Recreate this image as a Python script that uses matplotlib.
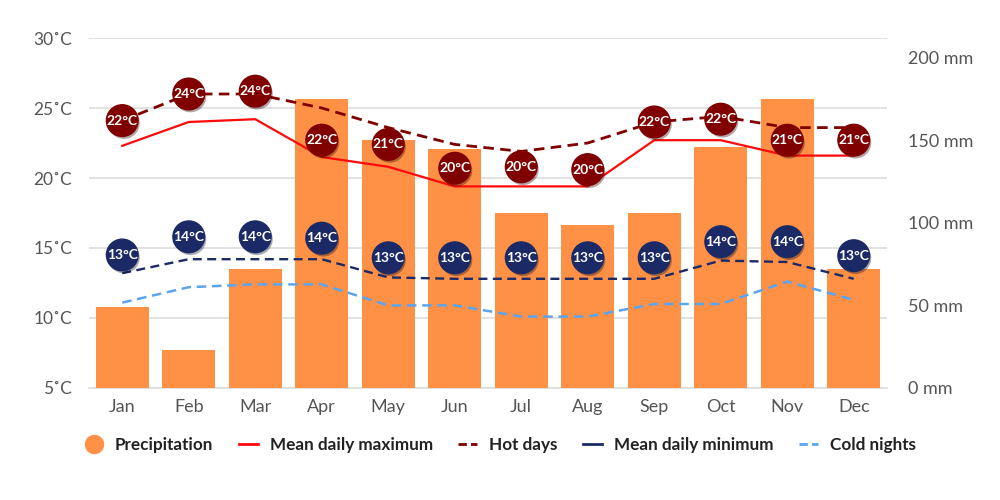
import matplotlib
matplotlib.use("Agg")
import matplotlib.pyplot as plt
import matplotlib.patheffects as pe
from matplotlib.lines import Line2D

# données
months = ["Jan", "Feb", "Mar", "Apr", "May", "Jun", "Jul", "Aug", "Sep", "Oct", "Nov", "Dec"]
precip_mm = [49, 23, 72, 175, 150, 145, 106, 99, 106, 146, 175, 72]
mean_max = [22.3, 24.0, 24.2, 21.5, 20.8, 19.4, 19.4, 19.4, 22.7, 22.7, 21.6, 21.6]
hot_days = [24.1, 26.0, 26.0, 25.0, 23.6, 22.4, 21.9, 22.5, 24.0, 24.4, 23.6, 23.6]
mean_min = [13.2, 14.2, 14.2, 14.2, 12.9, 12.8, 12.8, 12.8, 12.8, 14.1, 14.0, 12.8]
cold_nights = [11.1, 12.2, 12.4, 12.4, 10.9, 10.9, 10.1, 10.1, 11.0, 11.0, 12.6, 11.3]

# étiquettes rondes (valeur affichée et hauteur en °C)
hot_labels = [22, 24, 24, 22, 21, 20, 20, 20, 22, 22, 21, 21]
hot_label_y = [24.1, 26.0, 26.2, 22.7, 22.4, 20.7, 20.8, 20.6, 24.0, 24.2, 22.7, 22.7]
cold_labels = [13, 14, 14, 14, 13, 13, 13, 13, 13, 14, 14, 13]
cold_label_y = [14.5, 15.8, 15.8, 15.7, 14.3, 14.3, 14.3, 14.3, 14.3, 15.45, 15.45, 14.45]

temp_ticks = [5, 10, 15, 20, 25, 30]
precip_ticks = [0, 50, 100, 150, 200]

C_BAR = "#ff9147"
C_MAX = "#ff0a0a"
C_HOT = "#800000"
C_MIN = "#1b2a66"
C_COLD = "#5aa5f0"
C_TXT = "#555555"

plt.rcParams["font.family"] = ["Lato", "DejaVu Sans"]

fig = plt.figure(figsize=(10, 5), dpi=100)
pos = [0.089, 0.224, 0.798, 0.70]
ax = fig.add_axes(pos)
ax_p = ax.twinx()
ax_l = ax.twinx()

x = list(range(len(months)))

# axe des températures (grille + étiquettes gauche)
ax.set_xlim(-0.5, 11.5)
ax.set_ylim(5, 30)
ax.set_yticks(temp_ticks)
ax.set_yticklabels([f"{t}\u02daC" for t in temp_ticks])
ax.set_xticks(x)
ax.set_xticklabels(months)
ax.grid(axis="y", color="#dddddd", lw=1.2)
ax.tick_params(length=0, labelsize=13, colors=C_TXT, pad=8)
ax.tick_params(axis="y", labelsize=12.5, pad=12)
for s in ["top", "right", "left"]:
    ax.spines[s].set_visible(False)
ax.spines["bottom"].set_color("#dddddd")
ax.spines["bottom"].set_linewidth(1.2)

# précipitations
ax_p.bar(x, precip_mm, width=0.8, color=C_BAR, zorder=2)
ax_p.set_ylim(0, 212)
ax_p.set_yticks(precip_ticks)
ax_p.set_yticklabels([f"{p} mm" for p in precip_ticks])
ax_p.tick_params(length=0, labelsize=13, colors=C_TXT, pad=15)
for s in ax_p.spines.values():
    s.set_visible(False)

# courbes de température
ax_l.set_ylim(5, 30)
ax_l.axis("off")
ax_l.plot(x, mean_max, color=C_MAX, lw=1.6)
ax_l.plot(x, hot_days, color=C_HOT, lw=2, ls=(0, (3.8, 2.3)))
ax_l.plot(x, mean_min, color=C_MIN, lw=1.7, ls=(0, (3.8, 2.3)))
ax_l.plot(x, cold_nights, color=C_COLD, lw=1.8, ls=(0, (3.8, 2.3)))

shadow = [pe.SimplePatchShadow(offset=(1.2, -1.8), alpha=0.35), pe.Normal()]
ax_l.scatter(x, hot_label_y, s=520, color=C_HOT, zorder=5, path_effects=shadow)
ax_l.scatter(x, cold_label_y, s=520, color=C_MIN, zorder=5, path_effects=shadow)
for i in x:
    ax_l.text(i, hot_label_y[i], f"{hot_labels[i]}°C", color="white", fontsize=10,
              fontweight="bold", ha="center", va="center", zorder=6)
    ax_l.text(i, cold_label_y[i], f"{cold_labels[i]}°C", color="white", fontsize=10,
              fontweight="bold", ha="center", va="center", zorder=6)

handles = [
    Line2D([], [], ls="none", marker="o", markersize=13, color=C_BAR),
    Line2D([], [], color=C_MAX, lw=2),
    Line2D([], [], color=C_HOT, lw=2, ls=(0, (3, 1.5))),
    Line2D([], [], color=C_MIN, lw=2),
    Line2D([], [], color=C_COLD, lw=2, ls=(0, (3, 1.5))),
]
names = ["Precipitation", "Mean daily maximum", "Hot days", "Mean daily minimum", "Cold nights"]
leg = fig.legend(handles, names, loc="center", bbox_to_anchor=(0.5, 0.11), ncol=5,
                 frameon=False, handlelength=1.1, handletextpad=0.7, columnspacing=1.5,
                 prop={"weight": "bold", "size": 12.3})
for t in leg.get_texts():
    t.set_color("#222222")

fig.savefig("out.png", dpi=100)
